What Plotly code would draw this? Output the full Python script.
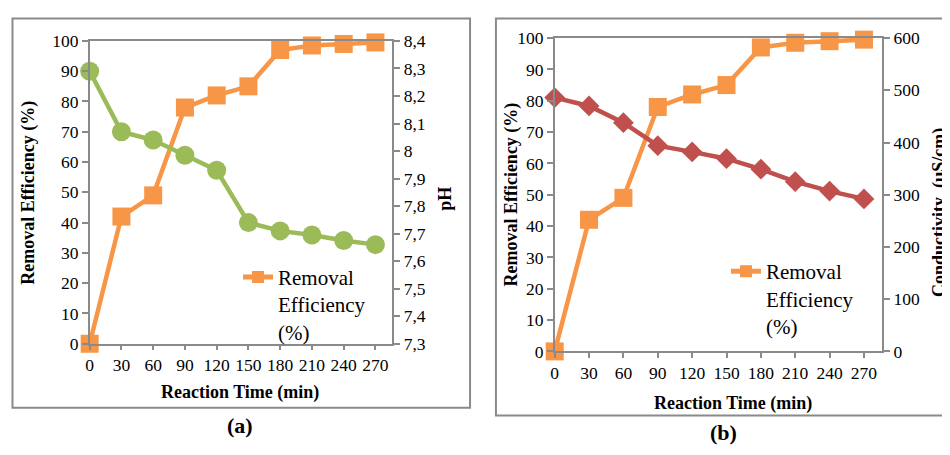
import plotly.graph_objects as go

# ---- data ----
time_min = [0, 30, 60, 90, 120, 150, 180, 210, 240, 270]
removal_eff = [0, 42, 49, 78, 82, 85, 97, 98.5, 99, 99.5]
ph_values = [8.29, 8.07, 8.04, 7.985, 7.93, 7.74, 7.71, 7.695, 7.675, 7.66]
conductivity = [486, 470, 438, 394, 382, 369, 349, 325, 307, 292]

x_ticks = [0, 30, 60, 90, 120, 150, 180, 210, 240, 270]
eff_ticks = [0, 10, 20, 30, 40, 50, 60, 70, 80, 90, 100]
ph_tickvals = [7.3, 7.4, 7.5, 7.6, 7.7, 7.8, 7.9, 8.0, 8.1, 8.2, 8.3, 8.4]
ph_ticktext = ["7,3", "7,4", "7,5", "7,6", "7,7", "7,8", "7,9", "8", "8,1", "8,2", "8,3", "8,4"]
cond_ticks = [0, 100, 200, 300, 400, 500, 600]

# the page body keeps its default 8px margin, so the figure is offset by 8px
OFF = 8
W, H = 950 - OFF, 455 - OFF
ORANGE = "#F79646"
GREEN = "#9BBB59"
RED = "#C0504D"
AXIS = "#8A8A8A"
FONT = "Times New Roman, Liberation Serif, Tinos, DejaVu Serif, serif"

def px(x):
    return (x - OFF) / W

def py(y):
    return 1 - (y - OFF) / H

fig = go.Figure()

# Left chart: pH (secondary), removal (primary)
fig.add_trace(go.Scatter(x=time_min, y=ph_values, xaxis="x", yaxis="y2",
                         mode="lines+markers", showlegend=False, cliponaxis=False,
                         line=dict(color=GREEN, width=4.5),
                         marker=dict(symbol="circle", size=19, color=GREEN)))
fig.add_trace(go.Scatter(x=time_min, y=removal_eff, xaxis="x", yaxis="y",
                         mode="lines+markers", name="Removal<br>Efficiency<br>(%)",
                         legend="legend", cliponaxis=False,
                         line=dict(color=ORANGE, width=4.5),
                         marker=dict(symbol="square", size=18, color=ORANGE)))

# Right chart: conductivity (secondary), removal (primary)
fig.add_trace(go.Scatter(x=time_min, y=conductivity, xaxis="x2", yaxis="y4",
                         mode="lines+markers", showlegend=False, cliponaxis=False,
                         line=dict(color=RED, width=4.5),
                         marker=dict(symbol="diamond", size=16, color=RED)))
fig.add_trace(go.Scatter(x=time_min, y=removal_eff, xaxis="x2", yaxis="y3",
                         mode="lines+markers", name="Removal<br>Efficiency<br>(%)",
                         legend="legend2", cliponaxis=False,
                         line=dict(color=ORANGE, width=4.5),
                         marker=dict(symbol="square", size=18, color=ORANGE)))

tickfont = dict(family=FONT, size=17.5, color="black")

common_x = dict(range=[0, 286], tickvals=x_ticks, ticks="outside", ticklen=5,
                tickcolor=AXIS, tickwidth=1.5, showline=True, linecolor=AXIS,
                linewidth=1.5, mirror=True, showgrid=False, zeroline=False,
                tickfont=tickfont)
common_y = dict(ticks="outside", ticklen=6, tickcolor=AXIS, tickwidth=1.5,
                showline=True, linecolor=AXIS, linewidth=1.5, showgrid=False,
                zeroline=False, tickfont=tickfont)

legend_common = dict(xanchor="left", yanchor="top", bgcolor="rgba(0,0,0,0)",
                     valign="top", itemsizing="constant",
                     font=dict(family=FONT, size=21, color="black"))

fig.update_layout(
    width=W, height=H,
    margin=dict(l=0, r=0, t=0, b=0),
    paper_bgcolor="white", plot_bgcolor="white",
    font=dict(family=FONT, color="black"),
    xaxis=dict(domain=[px(86), px(390)], anchor="y", **common_x),
    yaxis=dict(domain=[py(349), py(32)], anchor="x", range=[0, 100],
               tickvals=eff_ticks, **common_y),
    yaxis2=dict(overlaying="y", anchor="x", side="right", range=[7.3, 8.4],
                tickvals=ph_tickvals, ticktext=ph_ticktext, **common_y),
    xaxis2=dict(domain=[px(553), px(882)], anchor="y3", **common_x),
    yaxis3=dict(domain=[py(357), py(29)], anchor="x2", range=[0, 100],
                tickvals=eff_ticks, **common_y),
    yaxis4=dict(overlaying="y3", anchor="x2", side="right", range=[0, 600],
                tickvals=cond_ticks, **common_y),
    legend=dict(x=px(235), y=py(258), **legend_common),
    legend2=dict(x=px(725), y=py(252), **legend_common),
)

title_font = dict(family=FONT, size=18, color="black")
annots = [
    dict(text="<b>Removal Efficiency (%)</b>", x=px(25), y=py(191), textangle=-90),
    dict(text="<b>pH</b>", x=px(442), y=py(197), textangle=-90),
    dict(text="<b>Reaction Time (min)</b>", x=px(237), y=py(400), textangle=0),
    dict(text="<b>Removal Efficiency (%)</b>", x=px(510), y=py(193), textangle=-90),
    dict(text="<b>Conductivity  (μS/cm)</b>", x=px(940), y=py(212), textangle=-90),
    dict(text="<b>Reaction Time (min)</b>", x=px(732), y=py(412), textangle=0),
]
for a in annots:
    fig.add_annotation(xref="paper", yref="paper", showarrow=False,
                       xanchor="center", yanchor="middle", font=title_font, **a)

label_font = dict(family=FONT, size=22, color="black")
fig.add_annotation(text="<b>(a)</b>", x=px(237), y=py(435), xref="paper", yref="paper",
                   xanchor="center", yanchor="middle", showarrow=False, font=label_font)
fig.add_annotation(text="<b>(b)</b>", x=px(723), y=py(442), xref="paper", yref="paper",
                   xanchor="center", yanchor="middle", showarrow=False, font=label_font)

# panel borders
fig.add_shape(type="rect", xref="paper", yref="paper",
              x0=px(8.5), x1=px(468), y0=py(416), y1=py(8.5),
              line=dict(color=AXIS, width=2))
fig.add_shape(type="rect", xref="paper", yref="paper",
              x0=px(494), x1=px(965), y0=py(424), y1=py(8.5),
              line=dict(color=AXIS, width=2))

fig.write_html("out.html")
